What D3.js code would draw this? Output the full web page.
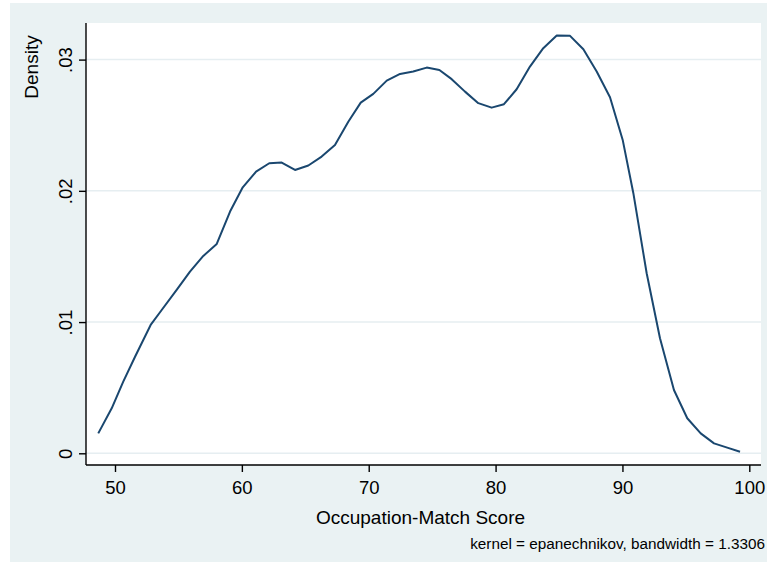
<!DOCTYPE html>
<html>
<head>
<meta charset="utf-8">
<script src="https://cdn.jsdelivr.net/npm/d3@7"></script>
<style>
  body { margin: 0; background: #fff; }
  text { font-family: 'Liberation Sans', Arial, sans-serif; fill: #000; }
</style>
</head>
<body>
<svg id="density-chart" width="767" height="562"></svg>
<script>
// kernel density estimate
const scores = [48.68, 49.74, 50.65, 51.58, 52.81, 53.68, 54.86, 55.91, 56.96, 58.02,
  59.07, 60.07, 61.12, 62.16, 63.14, 64.19, 65.24, 66.29, 67.34, 68.39,
  69.37, 70.36, 71.42, 72.47, 73.51, 74.57, 75.57, 76.54, 77.59, 78.64,
  79.69, 80.66, 81.66, 82.71, 83.76, 84.82, 85.87, 86.92, 87.97, 89.02,
  90.02, 90.86, 91.91, 92.96, 94.06, 95.11, 96.17, 97.22, 98.26, 99.27];
const densities = [0.00152, 0.00343, 0.00546, 0.00736, 0.00978, 0.01092, 0.01245, 0.01384, 0.01504, 0.01595,
  0.01842, 0.02027, 0.02146, 0.02210, 0.02215, 0.02159, 0.02193, 0.02261, 0.02350, 0.02527,
  0.02672, 0.02739, 0.02840, 0.02891, 0.02909, 0.02939, 0.02921, 0.02851, 0.02756, 0.02668,
  0.02634, 0.02660, 0.02774, 0.02947, 0.03087, 0.03183, 0.03181, 0.03079, 0.02909, 0.02713,
  0.02388, 0.01982, 0.01372, 0.00877, 0.00482, 0.00267, 0.00152, 0.00076, 0.00043, 0.00012];

const xTicks = [50, 60, 70, 80, 90, 100];
const yTicks = [0, 0.01, 0.02, 0.03];
const yTickLabels = ['0', '.01', '.02', '.03'];

const xTitle = 'Occupation-Match Score';
const yTitle = 'Density';
const note = 'kernel = epanechnikov, bandwidth = 1.3306';

class DensityView {
  constructor() {
    this.svg = d3.select('#density-chart');
    // plot region (white box) inside the graph region
    this.plot = { left: 86, right: 761, top: 23, bottom: 465 };
    this.render();
  }

  render() {
    const svg = this.svg;
    const p = this.plot;

    // graph background
    svg.append('rect')
      .attr('x', 10).attr('y', 3)
      .attr('width', 757).attr('height', 559)
      .attr('fill', '#eaf2f3');

    svg.append('rect')
      .attr('x', p.left).attr('y', p.top)
      .attr('width', p.right - p.left).attr('height', p.bottom - p.top)
      .attr('fill', '#fff');

    this.xScale = d3.scaleLinear().domain([50, 100]).range([115, 749.3]);
    this.yScale = d3.scaleLinear().domain([0, 0.03]).range([453.3, 59.6]);

    // horizontal grid lines
    svg.append('g')
      .selectAll('line')
      .data(yTicks)
      .join('line')
      .attr('x1', p.left).attr('x2', p.right)
      .attr('y1', d => this.yScale(d)).attr('y2', d => this.yScale(d))
      .attr('stroke', '#e6eef1')
      .attr('stroke-width', 1.5);

    // x axis
    const xAxis = svg.append('g')
      .attr('transform', `translate(0, ${p.bottom})`)
      .call(d3.axisBottom(this.xScale).tickValues(xTicks).tickSize(7).tickPadding(9).tickSizeOuter(0));
    xAxis.select('.domain').attr('d', `M${p.left},0H${p.right}`);

    // y axis, labels turned like Stata does
    const yAxis = svg.append('g')
      .attr('transform', `translate(${p.left}, 0)`)
      .call(d3.axisLeft(this.yScale).tickValues(yTicks).tickSize(7).tickSizeOuter(0)
        .tickFormat((d, i) => yTickLabels[i]));
    yAxis.select('.domain').attr('d', `M0,${p.top}V${p.bottom}`);
    yAxis.selectAll('.tick text')
      .attr('x', null).attr('dy', null)
      .attr('text-anchor', 'middle')
      .attr('transform', 'translate(-14, 0) rotate(-90)');

    svg.selectAll('.domain, .tick line').attr('stroke', '#000').attr('stroke-width', 1.4);
    svg.selectAll('.tick text').attr('font-size', 18.5).attr('font-family', null).attr('fill', '#000');
    xAxis.selectAll('.tick text').attr('dy', '0.71em');

    // density curve
    const line = d3.line()
      .x((d, i) => this.xScale(scores[i]))
      .y(d => this.yScale(d));

    svg.append('path')
      .datum(densities)
      .attr('fill', 'none')
      .attr('stroke', '#1a476f')
      .attr('stroke-width', 2)
      .attr('stroke-linejoin', 'round')
      .attr('d', line);

    // titles and note
    svg.append('text')
      .text(xTitle)
      .attr('x', (p.left + p.right) / 2 - 3)
      .attr('y', 524)
      .attr('text-anchor', 'middle')
      .attr('font-size', 19);

    svg.append('text')
      .text(yTitle)
      .attr('text-anchor', 'middle')
      .attr('font-size', 19)
      .attr('transform', 'translate(38, 67) rotate(-90)');

    svg.append('text')
      .text(note)
      .attr('x', 765)
      .attr('y', 549)
      .attr('text-anchor', 'end')
      .attr('font-size', 15.3);
  }
}

new DensityView();
</script>
</body>
</html>
